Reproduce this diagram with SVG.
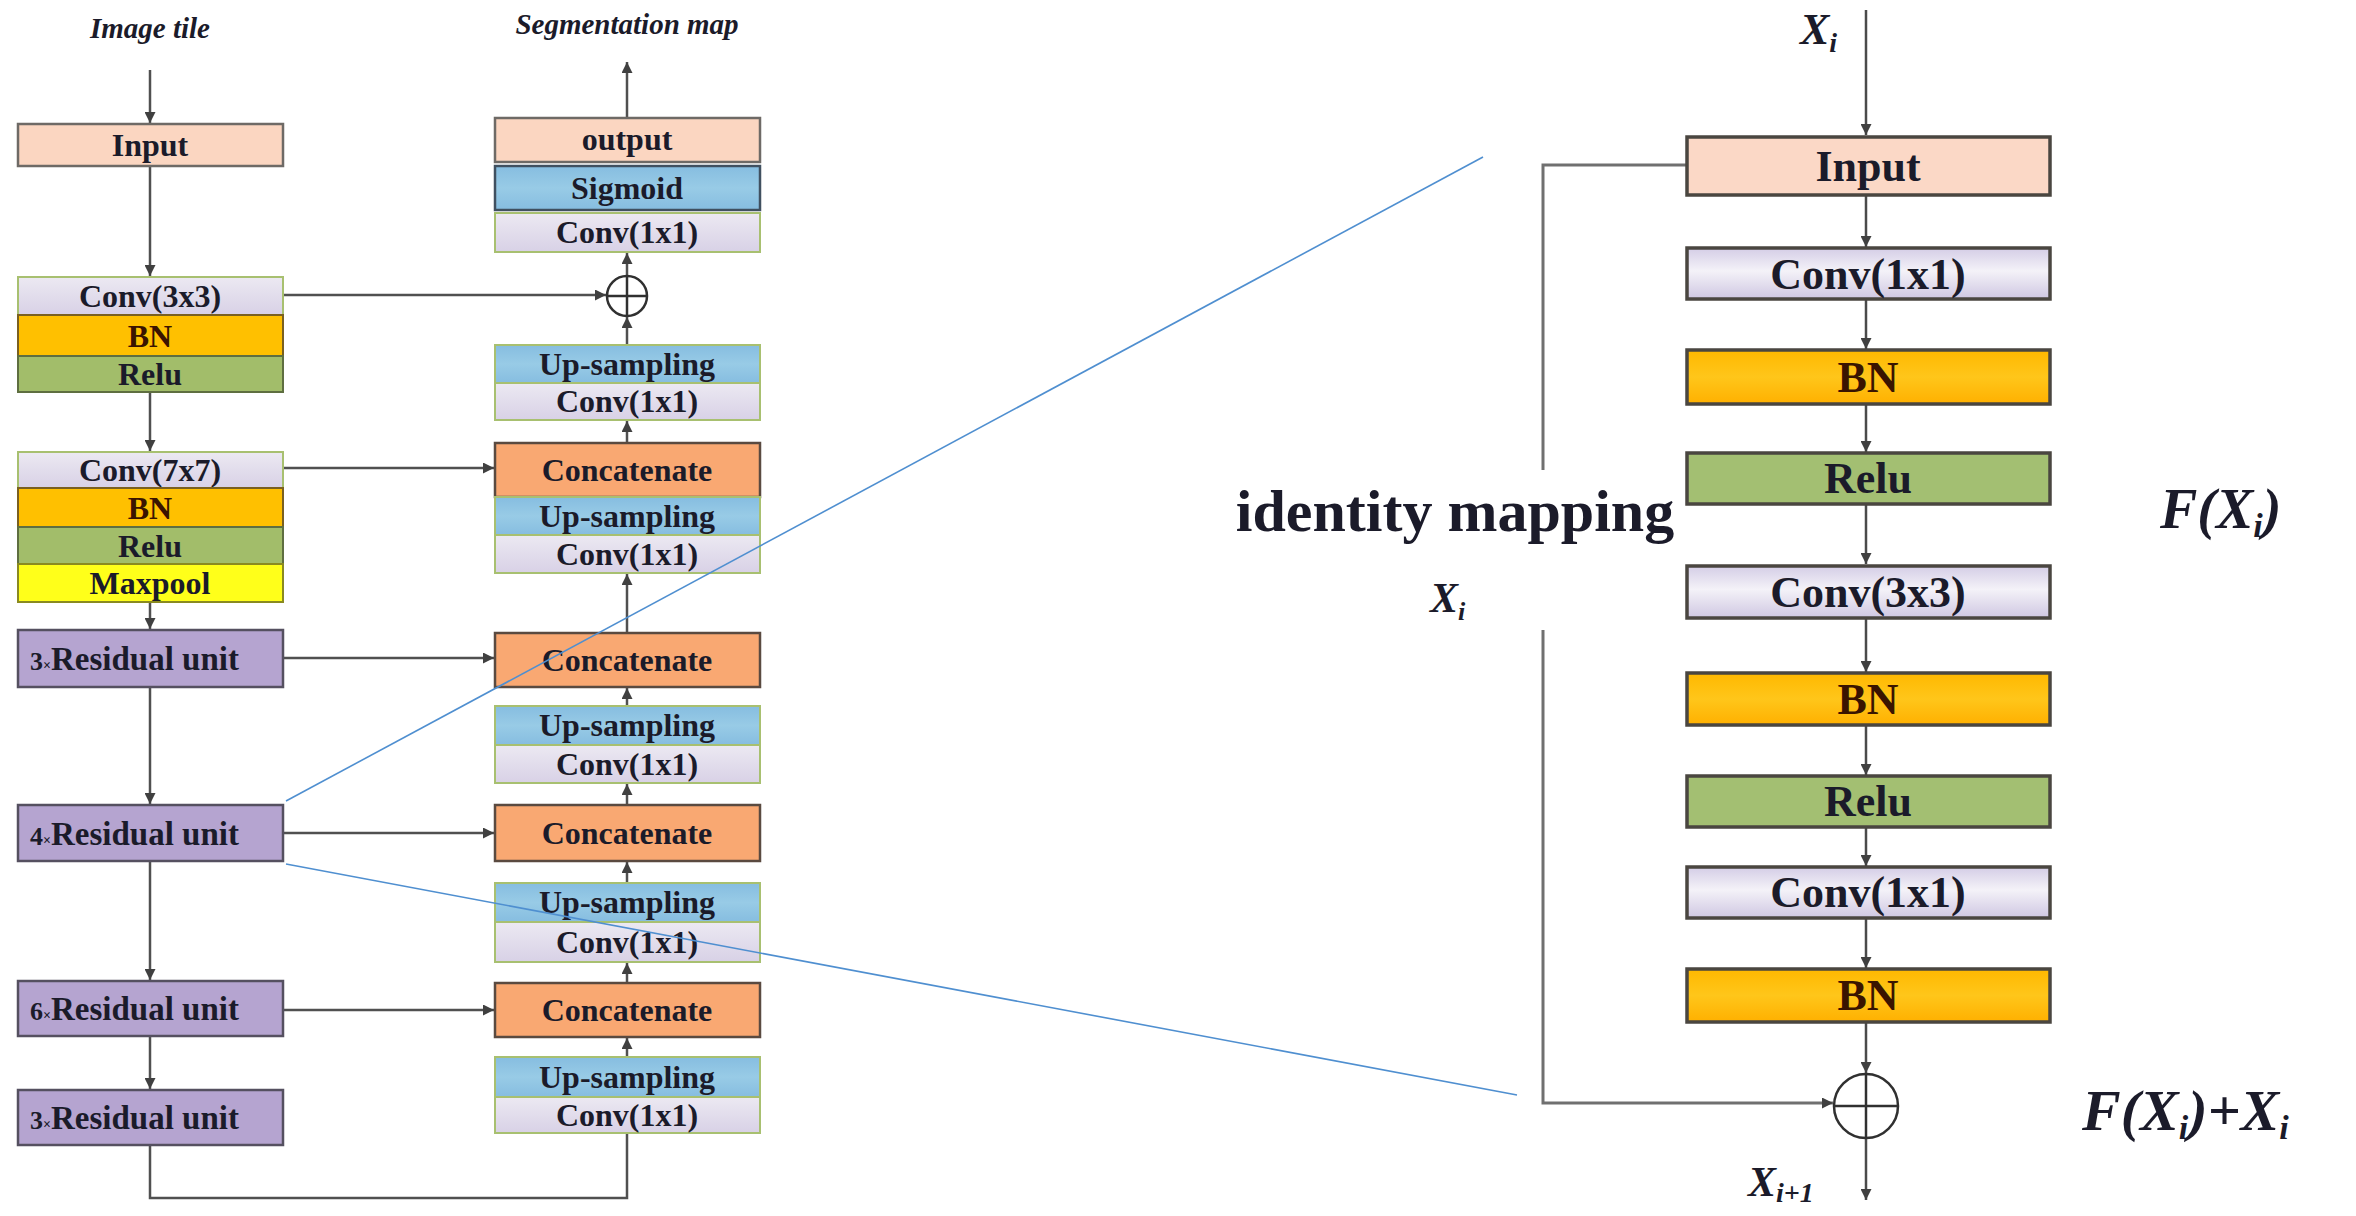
<svg xmlns="http://www.w3.org/2000/svg" width="2356" height="1216" viewBox="0 0 2356 1216">
<style>
  text { font-family: "Liberation Serif", "Times New Roman", serif; font-weight: bold; fill: #1b1b2a; }
  .lbl { font-size: 32px; text-anchor: middle; }
  .rl { font-size: 44px; text-anchor: middle; }
  .it { font-style: italic; }
  .bnt { fill: #3a1400; }
  .wire { fill: none; stroke: #505050; stroke-width: 2.5; }
  .rwire { fill: none; stroke: #4a4a4a; stroke-width: 2.5; }
  .idw { fill: none; stroke: #707070; stroke-width: 3; }
  .blue { fill: none; stroke: #4f8fd0; stroke-width: 1.6; }
  .inp { fill: #fbd6c1; stroke: #6e6a66; stroke-width: 2.5; }
  .conv { fill: url(#gConv); stroke: #a8c070; stroke-width: 2; }
  .bn { fill: #ffc000; stroke: #7a6020; stroke-width: 2; }
  .relu { fill: #a2bd6a; stroke: #5e6e40; stroke-width: 2; }
  .maxp { fill: #ffff1a; stroke: #8a8a20; stroke-width: 2; }
  .res { fill: #b5a4d0; stroke: #555060; stroke-width: 2.5; }
  .cat { fill: #f9a872; stroke: #5a4a40; stroke-width: 2.5; }
  .up { fill: url(#gUp); stroke: #a8c070; stroke-width: 2; }
  .sig { fill: url(#gUp); stroke: #405060; stroke-width: 2.5; }
  .rbox { stroke: #4a4640; stroke-width: 3.5; }
  .circ { fill: none; stroke: #303030; stroke-width: 2.5; }
</style>
<defs>
  <linearGradient id="gConv" x1="0" y1="0" x2="0" y2="1">
    <stop offset="0" stop-color="#ece9f2"/>
    <stop offset="0.5" stop-color="#e2ddec"/>
    <stop offset="1" stop-color="#d8d1e6"/>
  </linearGradient>
  <linearGradient id="gUp" x1="0" y1="0" x2="0" y2="1">
    <stop offset="0" stop-color="#86bde0"/>
    <stop offset="0.5" stop-color="#98cbe6"/>
    <stop offset="1" stop-color="#86bde0"/>
  </linearGradient>
  <linearGradient id="gRConv" x1="0" y1="0" x2="0" y2="1">
    <stop offset="0" stop-color="#d4cde6"/>
    <stop offset="0.45" stop-color="#f4f2f8"/>
    <stop offset="1" stop-color="#cfc7e2"/>
  </linearGradient>
  <linearGradient id="gRBN" x1="0" y1="0" x2="0" y2="1">
    <stop offset="0" stop-color="#ffb800"/>
    <stop offset="0.5" stop-color="#ffc61a"/>
    <stop offset="1" stop-color="#ffb000"/>
  </linearGradient>
  <marker id="ah" viewBox="0 0 10 10" refX="10" refY="5" markerWidth="11" markerHeight="11" markerUnits="userSpaceOnUse" orient="auto">
    <path d="M0,0 L10,5 L0,10 z" fill="#404040"/>
  </marker>
</defs>

<!-- titles -->
<text x="150" y="38" class="it" font-size="29" text-anchor="middle">Image tile</text>
<text x="627" y="34" class="it" font-size="29" text-anchor="middle">Segmentation map</text>

<!-- connectors -->
<g id="connectors">
  <line class="wire" x1="150" y1="70" x2="150" y2="123" marker-end="url(#ah)"/>
  <line class="wire" x1="150" y1="166" x2="150" y2="276" marker-end="url(#ah)"/>
  <line class="wire" x1="150" y1="392" x2="150" y2="451" marker-end="url(#ah)"/>
  <line class="wire" x1="150" y1="602" x2="150" y2="629" marker-end="url(#ah)"/>
  <line class="wire" x1="150" y1="687" x2="150" y2="804" marker-end="url(#ah)"/>
  <line class="wire" x1="150" y1="861" x2="150" y2="980" marker-end="url(#ah)"/>
  <line class="wire" x1="150" y1="1036" x2="150" y2="1089" marker-end="url(#ah)"/>
  <polyline class="wire" points="150,1145 150,1198 627,1198 627,1134"/>

  <line class="wire" x1="283" y1="295" x2="606" y2="295" marker-end="url(#ah)"/>
  <line class="wire" x1="283" y1="468" x2="494" y2="468" marker-end="url(#ah)"/>
  <line class="wire" x1="283" y1="658" x2="494" y2="658" marker-end="url(#ah)"/>
  <line class="wire" x1="283" y1="833" x2="494" y2="833" marker-end="url(#ah)"/>
  <line class="wire" x1="283" y1="1010" x2="494" y2="1010" marker-end="url(#ah)"/>

  <line class="wire" x1="627" y1="118" x2="627" y2="62" marker-end="url(#ah)"/>
  <line class="wire" x1="627" y1="276" x2="627" y2="253" marker-end="url(#ah)"/>
  <line class="wire" x1="627" y1="345" x2="627" y2="317" marker-end="url(#ah)"/>
  <line class="wire" x1="627" y1="443" x2="627" y2="421" marker-end="url(#ah)"/>
  <line class="wire" x1="627" y1="633" x2="627" y2="574" marker-end="url(#ah)"/>
  <line class="wire" x1="627" y1="706" x2="627" y2="688" marker-end="url(#ah)"/>
  <line class="wire" x1="627" y1="805" x2="627" y2="784" marker-end="url(#ah)"/>
  <line class="wire" x1="627" y1="883" x2="627" y2="862" marker-end="url(#ah)"/>
  <line class="wire" x1="627" y1="983" x2="627" y2="963" marker-end="url(#ah)"/>
  <line class="wire" x1="627" y1="1057" x2="627" y2="1038" marker-end="url(#ah)"/>

  <!-- right panel -->
  <line class="rwire" x1="1866" y1="10" x2="1866" y2="135" marker-end="url(#ah)"/>
  <line class="rwire" x1="1866" y1="195" x2="1866" y2="247" marker-end="url(#ah)"/>
  <line class="rwire" x1="1866" y1="299" x2="1866" y2="349" marker-end="url(#ah)"/>
  <line class="rwire" x1="1866" y1="404" x2="1866" y2="452" marker-end="url(#ah)"/>
  <line class="rwire" x1="1866" y1="504" x2="1866" y2="564" marker-end="url(#ah)"/>
  <line class="rwire" x1="1866" y1="618" x2="1866" y2="672" marker-end="url(#ah)"/>
  <line class="rwire" x1="1866" y1="725" x2="1866" y2="775" marker-end="url(#ah)"/>
  <line class="rwire" x1="1866" y1="827" x2="1866" y2="866" marker-end="url(#ah)"/>
  <line class="rwire" x1="1866" y1="918" x2="1866" y2="968" marker-end="url(#ah)"/>
  <line class="rwire" x1="1866" y1="1022" x2="1866" y2="1073" marker-end="url(#ah)"/>
  <line class="rwire" x1="1866" y1="1139" x2="1866" y2="1200" marker-end="url(#ah)"/>
  <polyline class="idw" points="1686,165 1543,165 1543,470"/>
  <polyline class="idw" points="1543,630 1543,1103 1833,1103" marker-end="url(#ah)"/>
</g>

<!-- left column -->
<g id="n-input"><rect class="inp" x="18" y="124" width="265" height="42"/><text class="lbl" x="150" y="156">Input</text></g>
<g id="n-conv3"><rect class="conv" x="18" y="277" width="265" height="38"/><text class="lbl" x="150" y="307">Conv(3x3)</text></g>
<g id="n-bn1"><rect class="bn" x="18" y="315" width="265" height="41"/><text class="lbl bnt" x="150" y="347">BN</text></g>
<g id="n-relu1"><rect class="relu" x="18" y="356" width="265" height="36"/><text class="lbl" x="150" y="385">Relu</text></g>
<g id="n-conv7"><rect class="conv" x="18" y="452" width="265" height="36"/><text class="lbl" x="150" y="481">Conv(7x7)</text></g>
<g id="n-bn2"><rect class="bn" x="18" y="488" width="265" height="39"/><text class="lbl bnt" x="150" y="519">BN</text></g>
<g id="n-relu2"><rect class="relu" x="18" y="527" width="265" height="37"/><text class="lbl" x="150" y="557">Relu</text></g>
<g id="n-maxpool"><rect class="maxp" x="18" y="564" width="265" height="38"/><text class="lbl" x="150" y="594">Maxpool</text></g>
<g id="n-res1"><rect class="res" x="18" y="630" width="265" height="57"/><text x="30" y="670"><tspan font-size="26">3</tspan><tspan font-size="14">×</tspan><tspan font-size="33">Residual unit</tspan></text></g>
<g id="n-res2"><rect class="res" x="18" y="805" width="265" height="56"/><text x="30" y="845"><tspan font-size="26">4</tspan><tspan font-size="14">×</tspan><tspan font-size="33">Residual unit</tspan></text></g>
<g id="n-res3"><rect class="res" x="18" y="981" width="265" height="55"/><text x="30" y="1020"><tspan font-size="26">6</tspan><tspan font-size="14">×</tspan><tspan font-size="33">Residual unit</tspan></text></g>
<g id="n-res4"><rect class="res" x="18" y="1090" width="265" height="55"/><text x="30" y="1129"><tspan font-size="26">3</tspan><tspan font-size="14">×</tspan><tspan font-size="33">Residual unit</tspan></text></g>

<!-- right column -->
<g id="n-output"><rect class="inp" x="495" y="118" width="265" height="44"/><text class="lbl" x="627" y="150">output</text></g>
<g id="n-sigmoid"><rect class="sig" x="495" y="166" width="265" height="44"/><text class="lbl" x="627" y="199">Sigmoid</text></g>
<g id="n-conv1a"><rect class="conv" x="495" y="213" width="265" height="39"/><text class="lbl" x="627" y="243">Conv(1x1)</text></g>
<g id="n-add1"><circle class="circ" cx="627" cy="296" r="20"/><line class="circ" x1="607" y1="296" x2="647" y2="296"/><line class="circ" x1="627" y1="276" x2="627" y2="316"/></g>
<g id="n-up1"><rect class="up" x="495" y="345" width="265" height="38"/><text class="lbl" x="627" y="375">Up-sampling</text></g>
<g id="n-conv1b"><rect class="conv" x="495" y="383" width="265" height="37"/><text class="lbl" x="627" y="412">Conv(1x1)</text></g>
<g id="n-cat1"><rect class="cat" x="495" y="443" width="265" height="54"/><text class="lbl" x="627" y="481">Concatenate</text></g>
<g id="n-up2"><rect class="up" x="495" y="497" width="265" height="38"/><text class="lbl" x="627" y="527">Up-sampling</text></g>
<g id="n-conv1c"><rect class="conv" x="495" y="535" width="265" height="38"/><text class="lbl" x="627" y="565">Conv(1x1)</text></g>
<g id="n-cat2"><rect class="cat" x="495" y="633" width="265" height="54"/><text class="lbl" x="627" y="671">Concatenate</text></g>
<g id="n-up3"><rect class="up" x="495" y="706" width="265" height="39"/><text class="lbl" x="627" y="736">Up-sampling</text></g>
<g id="n-conv1d"><rect class="conv" x="495" y="745" width="265" height="38"/><text class="lbl" x="627" y="775">Conv(1x1)</text></g>
<g id="n-cat3"><rect class="cat" x="495" y="805" width="265" height="56"/><text class="lbl" x="627" y="844">Concatenate</text></g>
<g id="n-up4"><rect class="up" x="495" y="883" width="265" height="39"/><text class="lbl" x="627" y="913">Up-sampling</text></g>
<g id="n-conv1e"><rect class="conv" x="495" y="922" width="265" height="40"/><text class="lbl" x="627" y="953">Conv(1x1)</text></g>
<g id="n-cat4"><rect class="cat" x="495" y="983" width="265" height="54"/><text class="lbl" x="627" y="1021">Concatenate</text></g>
<g id="n-up5"><rect class="up" x="495" y="1057" width="265" height="40"/><text class="lbl" x="627" y="1088">Up-sampling</text></g>
<g id="n-conv1f"><rect class="conv" x="495" y="1097" width="265" height="36"/><text class="lbl" x="627" y="1126">Conv(1x1)</text></g>

<!-- residual unit detail -->
<g id="r-xi"><text class="it" x="1800" y="44" font-size="44">X<tspan font-size="28" dy="8">i</tspan></text></g>
<g id="r-input"><rect class="rbox" fill="#fbd8c6" x="1687" y="137" width="363" height="58"/><text class="rl" x="1868" y="181">Input</text></g>
<g id="r-conv1"><rect class="rbox" fill="url(#gRConv)" x="1687" y="248" width="363" height="51"/><text class="rl" x="1868" y="289">Conv(1x1)</text></g>
<g id="r-bn1"><rect class="rbox" fill="url(#gRBN)" x="1687" y="350" width="363" height="54"/><text class="rl bnt" x="1868" y="392">BN</text></g>
<g id="r-relu1"><rect class="rbox" fill="#a3bf72" x="1687" y="453" width="363" height="51"/><text class="rl" x="1868" y="493">Relu</text></g>
<g id="r-conv3"><rect class="rbox" fill="url(#gRConv)" x="1687" y="566" width="363" height="52"/><text class="rl" x="1868" y="607">Conv(3x3)</text></g>
<g id="r-bn2"><rect class="rbox" fill="url(#gRBN)" x="1687" y="673" width="363" height="52"/><text class="rl bnt" x="1868" y="714">BN</text></g>
<g id="r-relu2"><rect class="rbox" fill="#a3bf72" x="1687" y="776" width="363" height="51"/><text class="rl" x="1868" y="816">Relu</text></g>
<g id="r-conv1b"><rect class="rbox" fill="url(#gRConv)" x="1687" y="867" width="363" height="51"/><text class="rl" x="1868" y="907">Conv(1x1)</text></g>
<g id="r-bn3"><rect class="rbox" fill="url(#gRBN)" x="1687" y="969" width="363" height="53"/><text class="rl bnt" x="1868" y="1010">BN</text></g>
<g id="r-add"><ellipse class="circ" cx="1866" cy="1106" rx="32" ry="32" stroke-width="3"/><line class="circ" x1="1834" y1="1106" x2="1898" y2="1106" stroke-width="3"/><line class="circ" x1="1866" y1="1074" x2="1866" y2="1138" stroke-width="3"/></g>

<text x="1455" y="531" font-size="60" text-anchor="middle">identity mapping</text>
<text class="it" x="1430" y="612" font-size="42">X<tspan font-size="26" dy="8">i</tspan></text>
<text class="it" x="2160" y="528" font-size="56">F(X<tspan font-size="34" dy="9">i</tspan><tspan dy="-9">)</tspan></text>
<text class="it" x="2082" y="1130" font-size="58">F(X<tspan font-size="34" dy="9">i</tspan><tspan dy="-9">)+X</tspan><tspan font-size="34" dy="9">i</tspan></text>
<text class="it" x="1748" y="1196" font-size="42">X<tspan font-size="28" dy="6">i+1</tspan></text>

<!-- zoom indicator lines (drawn over the boxes) -->
<g id="zoom-lines">
  <line class="blue" x1="286" y1="801" x2="1483" y2="157"/>
  <line class="blue" x1="286" y1="864" x2="1517" y2="1095"/>
</g>
</svg>
